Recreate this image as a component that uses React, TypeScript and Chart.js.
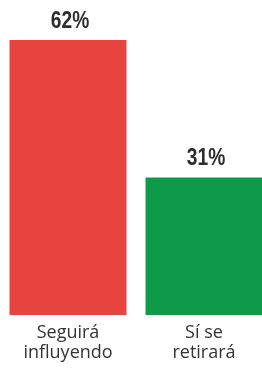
import React, { useEffect, useRef } from "react";
import { Chart, registerables } from "chart.js";

Chart.register(...registerables);

const categories: string[][] = [
  ["Seguirá", "influyendo"],
  ["Sí se", "retirará"],
];
const values: number[] = [62, 31];
const valueLabels: string[] = ["62%", "31%"];
const barColors: string[] = ["#e8443f", "#0f9a4a"];

const valueLabelPlugin = {
  id: "valueLabels",
  afterDatasetsDraw(chart: any) {
    const ctx = chart.ctx;
    const meta = chart.getDatasetMeta(0);
    meta.data.forEach((bar: any, i: number) => {
      ctx.save();
      ctx.fillStyle = "#2e2e2e";
      ctx.font = "bold 24px 'Liberation Sans', sans-serif";
      ctx.textAlign = "center";
      ctx.textBaseline = "middle";
      ctx.translate(bar.x + 2, bar.y - 19);
      ctx.scale(0.8, 1);
      ctx.fillText(valueLabels[i], 0, 0);
      ctx.restore();
    });
  },
};

export default function App() {
  const ref = useRef<HTMLCanvasElement | null>(null);
  useEffect(() => {
    document.body.style.margin = "0";
    if (!ref.current) return;
    const chart = new Chart(ref.current, {
      type: "bar",
      data: {
        labels: categories,
        datasets: [
          {
            data: values,
            backgroundColor: barColors,
            borderWidth: 0,
            barPercentage: 0.86,
            categoryPercentage: 1,
          },
        ],
      },
      options: {
        responsive: false,
        animation: false,
        layout: { padding: { top: 40, bottom: 1, left: 0, right: 0 } },
        plugins: {
          legend: { display: false },
          tooltip: { enabled: false },
        },
        scales: {
          y: { display: false, min: 0, max: 62 },
          x: {
            grid: { display: false, drawTicks: false },
            border: { display: false },
            ticks: {
              color: "#333333",
              padding: 8,
              font: { family: "'Open Sans', sans-serif", size: 18, lineHeight: 20 / 18 },
            },
          },
        },
      },
      plugins: [valueLabelPlugin],
    });
    return () => chart.destroy();
  }, []);
  return (
    <div style={{ width: 262, height: 372, overflow: "hidden", background: "#fff" }}>
      <canvas ref={ref} width={272} height={372} style={{ display: "block" }} />
    </div>
  );
}
